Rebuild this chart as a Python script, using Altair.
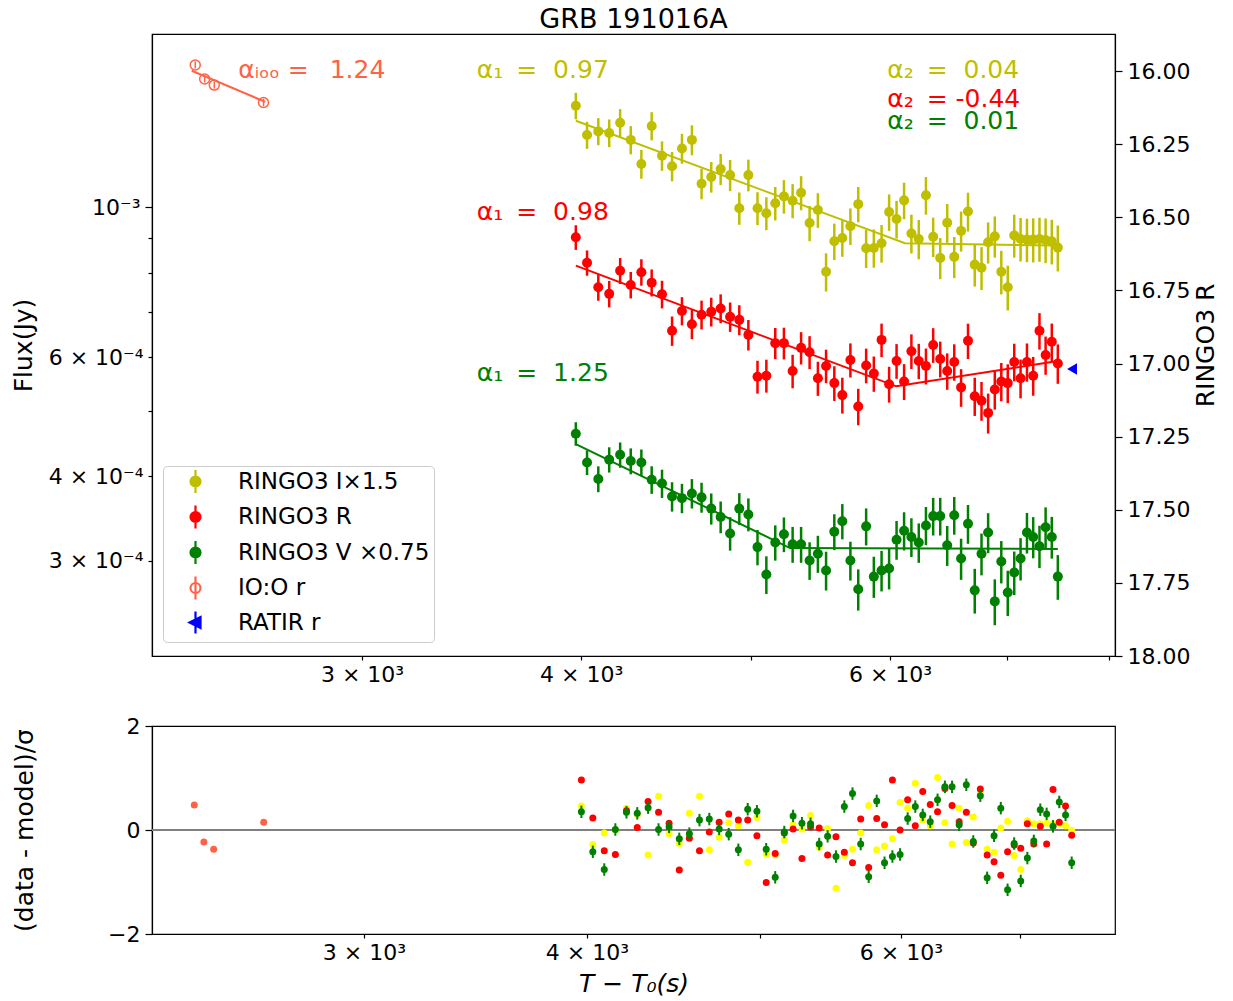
import altair as alt
import pandas as pd

FONT = "DejaVu Sans"
TITLE = "GRB 191016A"

# ---------------- data (flux in units of 1e-4 Jy) ----------------
TIME = [3972, 4031, 4091, 4150, 4210, 4269, 4329, 4388, 4448, 4507,
        4566, 4626, 4685, 4745, 4804, 4864, 4923, 4982, 5042, 5101,
        5161, 5220, 5280, 5339, 5399, 5458, 5517, 5577, 5636, 5696,
        5755, 5815, 5874, 5934, 5993, 6052, 6112, 6171, 6231, 6290,
        6350, 6409, 6468, 6528, 6587, 6647, 6706, 6766, 6825, 6885,
        6944, 7003, 7063, 7122, 7182, 7241, 7301, 7360, 7420, 7479]

I_FLUX = [14.12, 12.78, 12.94, 12.87, 13.33, 12.57, 11.58, 13.18, 11.91, 11.49,
          12.21, 12.57, 10.83, 11.08, 11.38, 11.15, 9.96, 11.15, 9.96, 9.79,
          10.13, 10.37, 10.22, 10.50, 9.47, 9.90, 8.02, 8.90, 9.00, 9.37,
          10.10, 8.69, 8.70, 8.84, 9.83, 9.60, 10.23, 9.14, 8.97, 10.41,
          9.04, 8.41, 9.48, 8.44, 9.22, 9.85, 8.22, 8.13, 8.87, 9.05,
          8.02, 7.61, 9.08, 8.97, 8.95, 8.95, 8.97, 8.94, 8.90, 8.71]
I_ERR = [0.045, 0.046, 0.046, 0.047, 0.047, 0.048, 0.049, 0.048, 0.050, 0.050,
         0.051, 0.051, 0.052, 0.052, 0.053, 0.053, 0.055, 0.054, 0.056, 0.056,
         0.057, 0.057, 0.058, 0.058, 0.060, 0.059, 0.065, 0.062, 0.062, 0.062,
         0.060, 0.065, 0.065, 0.064, 0.062, 0.064, 0.062, 0.066, 0.067, 0.064,
         0.067, 0.070, 0.066, 0.070, 0.068, 0.066, 0.072, 0.073, 0.070, 0.070,
         0.074, 0.076, 0.073, 0.074, 0.074, 0.075, 0.075, 0.076, 0.076, 0.078]

R_FLUX = [9.02, 8.27, 7.61, 7.44, 8.05, 7.67, 8.01, 7.73, 7.43, 6.56,
          7.02, 6.71, 6.93, 7.00, 7.08, 6.88, 6.81, 6.47, 5.61, 5.63,
          6.29, 6.29, 5.72, 6.19, 6.10, 5.58, 5.82, 5.49, 5.27, 5.94,
          5.07, 5.83, 5.67, 6.36, 5.47, 5.92, 5.52, 6.12, 5.92, 5.82,
          6.25, 5.96, 5.72, 5.90, 5.41, 6.34, 5.25, 5.17, 4.96, 5.37,
          5.52, 5.49, 5.90, 5.58, 5.90, 5.63, 6.56, 6.04, 6.32, 5.87]
R_ERR = [0.042, 0.043, 0.045, 0.045, 0.044, 0.045, 0.045, 0.046, 0.047, 0.050,
         0.048, 0.050, 0.049, 0.049, 0.049, 0.050, 0.051, 0.052, 0.056, 0.056,
         0.053, 0.054, 0.057, 0.055, 0.056, 0.058, 0.057, 0.059, 0.061, 0.058,
         0.062, 0.059, 0.060, 0.057, 0.061, 0.059, 0.061, 0.059, 0.060, 0.061,
         0.059, 0.061, 0.062, 0.062, 0.064, 0.060, 0.065, 0.066, 0.068, 0.066,
         0.065, 0.066, 0.064, 0.066, 0.065, 0.066, 0.062, 0.065, 0.064, 0.067]

V_FLUX = [4.62, 4.19, 3.96, 4.23, 4.30, 4.21, 4.19, 3.95, 3.90, 3.73,
          3.71, 3.77, 3.72, 3.58, 3.48, 3.29, 3.58, 3.51, 3.14, 2.86,
          3.19, 3.28, 3.17, 3.17, 3.00, 3.07, 2.90, 3.31, 3.43, 3.00,
          2.72, 3.37, 2.84, 2.90, 2.92, 3.22, 3.32, 3.25, 3.19, 3.38,
          3.49, 3.49, 3.16, 3.50, 3.02, 3.40, 2.71, 3.07, 3.30, 2.61,
          2.99, 2.69, 2.88, 3.02, 3.30, 3.25, 3.15, 3.36, 3.25, 2.84]
V_ERR = [0.040, 0.042, 0.044, 0.043, 0.043, 0.044, 0.045, 0.047, 0.048, 0.050,
         0.050, 0.050, 0.051, 0.053, 0.054, 0.057, 0.054, 0.056, 0.060, 0.064,
         0.060, 0.059, 0.061, 0.061, 0.064, 0.063, 0.066, 0.061, 0.060, 0.066,
         0.070, 0.063, 0.070, 0.069, 0.069, 0.066, 0.065, 0.066, 0.067, 0.065,
         0.064, 0.064, 0.068, 0.064, 0.070, 0.066, 0.076, 0.071, 0.068, 0.078,
         0.072, 0.077, 0.074, 0.072, 0.069, 0.070, 0.072, 0.070, 0.071, 0.076]

IOO_TIME = [2410, 2440, 2471, 2636]
IOO_FLUX = [16.22, 15.47, 15.15, 14.28]
IOO_ERR = [0.012, 0.012, 0.012, 0.013]

RATIR_TIME = [7620]
RATIR_FLUX = [5.76]

# broken power-law model lines (start, break, end)
I_MODEL_T = [3972, 6119, 7479]
I_MODEL_F = [13.42, 8.84, 8.77]
R_MODEL_T = [3972, 6049, 7479]
R_MODEL_F = [8.19, 5.43, 5.92]
V_MODEL_T = [3972, 5262, 7479]
V_MODEL_F = [4.46, 3.13, 3.12]
IOO_MODEL_T = [2399, 2642]
IOO_MODEL_F = [15.91, 14.31]

# residuals (data - model)/sigma
I_RES = [0.46, -0.28, -0.06, 0.00, 0.42, 0.30, -0.48, 0.65, -0.07, -0.26,
         0.32, 0.65, -0.38, -0.14, 0.14, 0.08, -0.62, 0.24, -0.46, -0.48,
         -0.19, 0.10, 0.02, 0.28, -0.33, 0.03, -1.12, -0.49, -0.37, -0.06,
         0.47, -0.38, -0.31, -0.17, 0.53, 0.42, 0.90, 0.19, 0.08, 1.01,
         0.14, -0.27, 0.42, -0.24, 0.25, 0.70, -0.37, -0.43, 0.04, 0.17,
         -0.49, -0.76, 0.18, 0.12, 0.12, 0.13, 0.12, 0.12, 0.08, -0.01]
R_RES = [0.96, 0.23, -0.40, -0.47, 0.37, 0.05, 0.55, 0.34, 0.13, -0.77,
         -0.16, -0.40, -0.04, 0.15, 0.31, 0.19, 0.19, -0.11, -1.01, -0.45,
         -0.06, 0.02, -0.55, 0.06, 0.04, -0.48, -0.13, -0.43, -0.63, 0.21,
         -0.72, 0.22, 0.10, 0.96, 0.00, 0.58, 0.08, 0.74, 0.49, 0.35,
         0.80, 0.47, 0.16, 0.34, -0.25, 0.79, -0.48, -0.61, -0.87, -0.42,
         -0.29, -0.35, 0.12, -0.27, 0.07, -0.27, 0.78, 0.15, 0.46, -0.10]
V_RES = [0.35, -0.42, -0.76, 0.01, 0.34, 0.32, 0.43, 0.01, 0.06, -0.17,
         -0.07, 0.19, 0.21, 0.02, -0.08, -0.38, 0.40, 0.36, -0.37, -0.91,
         -0.04, 0.27, 0.13, 0.12, -0.27, -0.12, -0.51, 0.45, 0.70, -0.27,
         -0.90, 0.56, -0.63, -0.51, -0.47, 0.22, 0.45, 0.29, 0.16, 0.58,
         0.83, 0.83, 0.10, 0.87, -0.22, 0.66, -0.92, -0.11, 0.42, -1.15,
         -0.26, -0.98, -0.54, -0.21, 0.39, 0.31, 0.07, 0.54, 0.29, -0.63]
V_RES_ERR = 0.12
IOO_RES = [0.48, -0.23, -0.37, 0.15]
ZERO = [0]

# annotations (non-collapsing spaces keep matplotlib's wide gaps)
NB = "\u00a0"
TH = "\u2009"
ANN_TEXT = ["α₁" + NB + TH + "= " + NB + "0.97", "α₂" + NB + TH + "= " + NB + "0.04",
            "α₂" + NB + TH + "= -0.44", "α₂" + NB + TH + "= " + NB + "0.01",
            "α₁" + NB + TH + "= " + NB + "0.98", "α₁" + NB + TH + "= " + NB + "1.25",
            "αᵢₒₒ" + NB + "= " + NB + TH + "1.24"]
ANN_T = [3488, 5978, 5978, 5978, 3488, 3488, 2550]
ANN_F = [15.95, 15.95, 14.44, 13.41, 9.83, 5.68, 15.95]
ANN_COLOR = ["#bfbf00", "#bfbf00", "#ff0000", "#008000", "#ff0000", "#008000", "#ff6347"]

# legend
LEG_LABELS = ["RINGO3 I×1.5", "RINGO3 R", "RINGO3 V ×0.75", "IO:O r", "RATIR r"]
LEG_STROKE = ["#bfbf00", "#ff0000", "#008000", "#ff6347", "#0000ff"]
LEG_FILL = ["#bfbf00", "#ff0000", "#008000", "#ffffff", "#0000ff"]

# magnitude axis
MAG_TICKS = [16.0, 16.25, 16.5, 16.75, 17.0, 17.25, 17.5, 17.75, 18.0]
MAG_DOMAIN = [15.8735, 18.0]

X_TICKS_TOP = [3000, 4000, 5000, 6000, 7000, 8000]
X_TICKS_BOT = [3000, 4000, 5000, 6000, 7000]
Y_TICKS = [3e-4, 4e-4, 5e-4, 6e-4, 7e-4, 8e-4, 9e-4, 1e-3]

# ---------------- scales / axes ----------------
XS_TOP = alt.Scale(type="log", domain=[2277, 8062], nice=False)
YS_TOP = alt.Scale(type="log", domain=[2.167e-4, 1.803e-3], nice=False)
XS_BOT = alt.Scale(type="log", domain=[2282, 7909], nice=False)
YS_BOT = alt.Scale(domain=[-2, 2], nice=False, zero=False)

XLAB = ("datum.value == 3000 ? '3 × 10³' : datum.value == 4000 ? '4 × 10³' : "
        "datum.value == 6000 ? '6 × 10³' : ''")
YLAB = ("round(datum.value * 10000) == 10 ? '10⁻³' : "
        "round(datum.value * 10000) == 6 ? '6 × 10⁻⁴' : "
        "round(datum.value * 10000) == 4 ? '4 × 10⁻⁴' : "
        "round(datum.value * 10000) == 3 ? '3 × 10⁻⁴' : ''")

AX_X_TOP = alt.Axis(values=X_TICKS_TOP, labelExpr=XLAB, tickSize=4, labelPadding=4, title=None)
AX_Y_TOP = alt.Axis(values=Y_TICKS, labelExpr=YLAB,
                    tickSize={"condition": {"test": "round(datum.value * 10000) == 10", "value": 7}, "value": 4},
                    labelPadding=5, title="Flux(Jy)", titlePadding=12)
AX_X_BOT = alt.Axis(values=X_TICKS_BOT, labelExpr=XLAB, tickSize=4, labelPadding=4,
                    title="T − T₀(s)", titleFontStyle="italic", titlePadding=8)
AX_Y_BOT = alt.Axis(values=[-2, 0, 2], labelExpr="datum.value < 0 ? '−' + abs(datum.value) : '' + datum.value",
                    tickSize=7, labelPadding=5, title="(data - model)/σ", titlePadding=70)


def xt(field="t"):
    return alt.X(f"{field}:Q", scale=XS_TOP, axis=AX_X_TOP)


def yt(field):
    return alt.Y(f"{field}:Q", scale=YS_TOP, axis=AX_Y_TOP)


def flux_df(times, flux, err):
    return pd.DataFrame({
        "t": times,
        "f": [v * 1e-4 for v in flux],
        "lo": [v * 1e-4 * (1 - e) for v, e in zip(flux, err)],
        "hi": [v * 1e-4 * (1 + e) for v, e in zip(flux, err)],
    })


def model_df(times, flux):
    return pd.DataFrame({"t": times, "f": [v * 1e-4 for v in flux]})


layers = []
for flux, err, color in [(I_FLUX, I_ERR, "#bfbf00"), (R_FLUX, R_ERR, "#ff0000"), (V_FLUX, V_ERR, "#008000")]:
    df = flux_df(TIME, flux, err)
    layers.append(alt.Chart(df).mark_rule(color=color, strokeWidth=2.5).encode(x=xt(), y=yt("lo"), y2="hi:Q"))
    layers.append(alt.Chart(df).mark_circle(color=color, size=100, opacity=1).encode(x=xt(), y=yt("f")))

for mt, mf, color in [(I_MODEL_T, I_MODEL_F, "#bfbf00"), (R_MODEL_T, R_MODEL_F, "#ff0000"),
                      (V_MODEL_T, V_MODEL_F, "#008000"), (IOO_MODEL_T, IOO_MODEL_F, "#ff6347")]:
    layers.append(alt.Chart(model_df(mt, mf)).mark_line(color=color, strokeWidth=2).encode(x=xt(), y=yt("f")))

ioo = flux_df(IOO_TIME, IOO_FLUX, IOO_ERR)
layers.append(alt.Chart(ioo).mark_rule(color="#ff6347", strokeWidth=1.5).encode(x=xt(), y=yt("lo"), y2="hi:Q"))
layers.append(alt.Chart(ioo).mark_point(shape="circle", filled=False, color="#ff6347", size=100,
                                        strokeWidth=1.5, opacity=1).encode(x=xt(), y=yt("f")))

ratir = model_df(RATIR_TIME, RATIR_FLUX)
layers.append(alt.Chart(ratir).mark_point(shape="triangle-left", filled=True, color="#0000ff",
                                          size=130, opacity=1).encode(x=xt(), y=yt("f")))

ann = pd.DataFrame({"t": ANN_T, "f": [v * 1e-4 for v in ANN_F], "text": ANN_TEXT, "color": ANN_COLOR})
layers.append(alt.Chart(ann).mark_text(align="left", baseline="middle", fontSize=25, font=FONT).encode(
    x=xt(), y=yt("f"), text="text:N", color=alt.Color("color:N", scale=None)))

CIRC = "M-1,0A1,1,0,1,1,1,0A1,1,0,1,1,-1,0ZM0,-2.3L0,2.3"
TRI = "M-1.2,0L1,-1.1L1,1.1ZM0,-2.2L0,2.2"
LEG = alt.Legend(title=None, orient="none", legendX=11, legendY=432, padding=4,
                 symbolOffset=17, labelOffset=31, rowPadding=2.5, symbolSize=100,
                 symbolStrokeWidth=2.2, labelFontSize=23, labelFont=FONT, labelColor="black",
                 strokeColor="#cccccc", fillColor="white", cornerRadius=4, labelLimit=400)
leg_df = pd.DataFrame({"series": LEG_LABELS, "t": [3000] * 5, "f": [5e-4] * 5})
layers.append(alt.Chart(leg_df).mark_point(filled=True, opacity=1, size=100, strokeWidth=2.2).encode(
    x=xt(), y=yt("f"),
    stroke=alt.Stroke("series:N", scale=alt.Scale(domain=LEG_LABELS, range=LEG_STROKE), legend=LEG),
    fill=alt.Fill("series:N", scale=alt.Scale(domain=LEG_LABELS, range=LEG_FILL), legend=LEG),
    shape=alt.Shape("series:N", scale=alt.Scale(domain=LEG_LABELS, range=[CIRC, CIRC, CIRC, CIRC, TRI]), legend=LEG),
).transform_filter("false"))

flux_group = alt.layer(*layers)

mag_layer = alt.Chart(pd.DataFrame({"mag": MAG_TICKS})).mark_point(opacity=0).encode(
    y=alt.Y("mag:Q", scale=alt.Scale(domain=MAG_DOMAIN, reverse=True, nice=False, zero=False),
            axis=alt.Axis(orient="right", values=MAG_TICKS, format=".2f", tickSize=7, labelPadding=5,
                          title="RINGO3 R", titleAngle=270, titleBaseline="top", titlePadding=4)))

top = alt.layer(flux_group, mag_layer).resolve_scale(y="independent").properties(
    width=963, height=622,
    title=alt.Title(TITLE, fontSize=27, font=FONT, fontWeight="normal", color="black", offset=0))

# ---------------- residual panel ----------------
def xb():
    return alt.X("t:Q", scale=XS_BOT, axis=AX_X_BOT)


def yb(field):
    return alt.Y(f"{field}:Q", scale=YS_BOT, axis=AX_Y_BOT)


zero = alt.Chart(pd.DataFrame({"r": ZERO})).mark_rule(color="#808080", strokeWidth=2).encode(y=yb("r"))
blayers = [zero]
blayers.append(alt.Chart(pd.DataFrame({"t": IOO_TIME, "r": IOO_RES})).mark_circle(
    color="#ff6347", size=49, opacity=1).encode(x=xb(), y=yb("r")))
for res, color in [(I_RES, "#ffff00"), (R_RES, "#ff0000")]:
    blayers.append(alt.Chart(pd.DataFrame({"t": TIME, "r": res})).mark_circle(
        color=color, size=49, opacity=1).encode(x=xb(), y=yb("r")))
vdf = pd.DataFrame({"t": TIME, "r": V_RES,
                    "lo": [v - V_RES_ERR for v in V_RES], "hi": [v + V_RES_ERR for v in V_RES]})
blayers.append(alt.Chart(vdf).mark_rule(color="#008000", strokeWidth=2).encode(x=xb(), y=yb("lo"), y2="hi:Q"))
blayers.append(alt.Chart(vdf).mark_circle(color="#008000", size=49, opacity=1).encode(x=xb(), y=yb("r")))

bottom = alt.layer(*blayers).properties(width=963, height=208)

chart = alt.vconcat(top, bottom, spacing=28).properties(
    padding={"left": 2, "top": -3, "right": 0, "bottom": 0}
).configure_view(stroke="black", strokeWidth=1.2).configure_axis(
    grid=False, domainColor="black", tickColor="black", labelColor="black", titleColor="black",
    domainWidth=1.2, tickWidth=1.2, labelFont=FONT, titleFont=FONT, labelFontSize=22,
    titleFontSize=25, titleFontWeight="normal", labelOverlap=False, labelBound=False, labelFlush=False
)

chart.save("out.html", embed_options={"renderer": "svg", "actions": False})
